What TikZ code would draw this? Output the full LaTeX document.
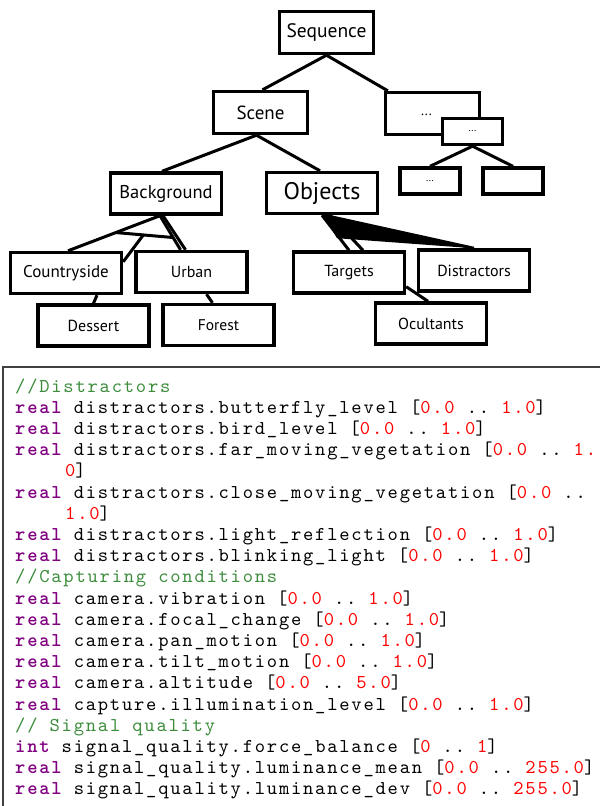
\documentclass[tikz,border=0pt]{standalone}
\usepackage{fontspec}
\usepackage{xcolor}
\usetikzlibrary{positioning, calc}

\newfontfamily\treefont{PT Sans}
\newfontfamily\codefont{lmmono10}[Extension=.otf, UprightFont=*-regular, BoldFont=lmmonolt10-bold, LetterSpace=9.1]
\definecolor{cmtgreen}{RGB}{60,140,60}
\definecolor{kwpurple}{RGB}{128,0,128}
\definecolor{numred}{RGB}{255,0,0}
\newcommand{\kwd}[1]{\textcolor{kwpurple}{\bfseries #1}}
\newcommand{\numv}[1]{\textcolor{numred}{#1}}
\newcommand{\cmnt}[1]{\textcolor{cmtgreen}{#1}}

\begin{document}
\begin{tikzpicture}[
  x=1pt, y=-1pt,
  tbox/.style={draw, fill=white, line width=3.4pt, inner sep=0pt, font=\treefont\fontsize{#1}{#1}\selectfont},
  topbox/.style={tbox=#1, minimum width=94pt, minimum height=42pt},
  leafbox/.style={tbox=#1, minimum width=111pt, minimum height=41pt},
  tinybox/.style={tbox=#1, minimum width=60pt, minimum height=26pt},
  link/.style={line width=3pt},
  codeln/.style={anchor=base west, inner sep=0pt, font=\codefont\fontsize{19.6}{19.6}\selectfont\frenchspacing}
]
\useasboundingbox (0,0) rectangle (600,806);

% Top of the tree
\node[topbox=19.5] (seq) at (326.5,32.5) {Sequence};
\node[topbox=19] (scene) at (260.5,112.5) {Scene};
\node[topbox=14] (dotsA) at (432.5,113.5) {\hspace*{-12pt}\raisebox{-5pt}{...}};
\node[tinybox=10] (dotsB) at (472.5,131.5) {...};
\node[tinybox=10] (dotsC) at (430,181) {...};
\node[tinybox=10] (blank) at (513,181) {};

% Scene parts
\node[leafbox=18.5] (bg) at (166,193.5) {Background};
\node[leafbox=24] (obj) at (322,193) {Objects};
\node[leafbox=17] (country) at (66,273) {Countryside};
\node[leafbox=16] (urban) at (191.5,272) {Urban};
\node[leafbox=16] (dessert) at (93.5,325.5) {Dessert};
\node[leafbox=15.5] (forest) at (218.5,325) {Forest};
\node[leafbox=16] (targets) at (349,272.5) {Targets};
\node[leafbox=16] (distr) at (474,270.5) {Distractors};
\node[leafbox=16] (ocult) at (431,323.5) {Ocultants};

% Upper links
\draw[link] (seq.south) -- ([xshift=2pt]scene.north);
\draw[link] (seq.south) -- ([xshift=4pt]dotsA.north west);
\draw[link] ([xshift=-4pt]scene.south) -- ([xshift=-4pt]bg.north);
\draw[link] ([xshift=-4pt]scene.south) -- ([xshift=-2pt]obj.north);
\draw[link] (dotsB.south) -- (dotsC.north);
\draw[link] (dotsB.south) -- (blank.north);

% Background links
\coordinate (bgfoot) at ([xshift=-6pt]bg.south);
\draw[link] (bgfoot) -- coordinate[pos=0.48] (brA) ([xshift=2pt]country.north);
\draw[link] (bgfoot) -- coordinate[pos=0.64] (brB) ([xshift=-11pt]urban.north);
\draw[link] ([xshift=3pt]bgfoot) -- ([xshift=-6pt]urban.north);
\draw[link] (brA) -- coordinate[pos=0.48] (brC) (brB);
\draw[link] (brC) -- ([yshift=-11pt]country.north east);
\draw[link] ([xshift=31pt]country.south) -- (dessert.north);
\draw[link] ([xshift=15pt]urban.south) -- ([xshift=-6pt]forest.north);

% Objects links
\coordinate (wedgetip) at ([xshift=15pt,yshift=-23pt]obj.south);
\fill ([xshift=2pt]obj.south) -- (distr.north) -- (wedgetip) -- cycle;
\draw[link] ([xshift=2pt]obj.south) -- (distr.north);
\draw[link] (obj.south) -- (targets.north);
\draw[link] ([xshift=8pt]obj.south) -- ([xshift=14pt]targets.north);
\draw[link] ([yshift=8pt]targets.south east) -- ([xshift=-3pt]ocult.north);

% Listing frame
\draw[line width=1.2pt, black!75] (3,806) -- (3,367) -- (600,367);

% Listing lines
\node[codeln] (ln0) at (15,392) {\cmnt{//Distractors}};
\node[codeln] (ln1) at (15,413.2) {\kwd{real} distractors.butterfly\_level [\numv{0.0} .. \numv{1.0}]};
\node[codeln] (ln2) at (15,434.4) {\kwd{real} distractors.bird\_level [\numv{0.0} .. \numv{1.0}]};
\node[codeln] (ln3) at (15,455.6) {\kwd{real} distractors.far\_moving\_vegetation [\numv{0.0} .. \numv{1.}};
\node[codeln] (ln4) at (65,476.8) {\numv{0}]};
\node[codeln] (ln5) at (15,498) {\kwd{real} distractors.close\_moving\_vegetation [\numv{0.0} ..};
\node[codeln] (ln6) at (65,519.2) {\numv{1.0}]};
\node[codeln] (ln7) at (15,540.4) {\kwd{real} distractors.light\_reflection [\numv{0.0} .. \numv{1.0}]};
\node[codeln] (ln8) at (15,561.6) {\kwd{real} distractors.blinking\_light [\numv{0.0} .. \numv{1.0}]};
\node[codeln] (ln9) at (15,582.8) {\cmnt{//Capturing conditions}};
\node[codeln] (ln10) at (15,604) {\kwd{real} camera.vibration [\numv{0.0} .. \numv{1.0}]};
\node[codeln] (ln11) at (15,625.2) {\kwd{real} camera.focal\_change [\numv{0.0} .. \numv{1.0}]};
\node[codeln] (ln12) at (15,646.4) {\kwd{real} camera.pan\_motion [\numv{0.0} .. \numv{1.0}]};
\node[codeln] (ln13) at (15,667.6) {\kwd{real} camera.tilt\_motion [\numv{0.0} .. \numv{1.0}]};
\node[codeln] (ln14) at (15,688.8) {\kwd{real} camera.altitude [\numv{0.0} .. \numv{5.0}]};
\node[codeln] (ln15) at (15,710) {\kwd{real} capture.illumination\_level [\numv{0.0} .. \numv{1.0}]};
\node[codeln] (ln16) at (15,731.2) {\cmnt{// Signal quality}};
\node[codeln] (ln17) at (15,752.4) {\kwd{int} signal\_quality.force\_balance [\numv{0} .. \numv{1}]};
\node[codeln] (ln18) at (15,773.6) {\kwd{real} signal\_quality.luminance\_mean [\numv{0.0} .. \numv{255.0}]};
\node[codeln] (ln19) at (15,794.8) {\kwd{real} signal\_quality.luminance\_dev [\numv{0.0} .. \numv{255.0}]};

\end{tikzpicture}
\end{document}
